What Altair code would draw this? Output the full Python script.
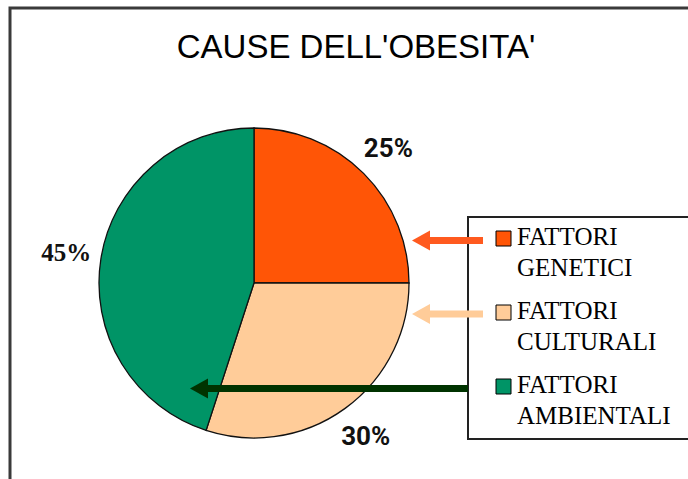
import altair as alt
import pandas as pd

# ---------------- data ----------------
title_text = "CAUSE DELL'OBESITA'"
categories = ["FATTORI GENETICI", "FATTORI CULTURALI", "FATTORI AMBIENTALI"]
values = [25, 30, 45]
pct_labels = ["25%", "30%", "45%"]
slice_colors = ["#FF5506", "#FFCC99", "#009466"]
arrow_colors = ["#FF5A1F", "#FFCC99", "#003300"]

# ---------------- layout ----------------
W, H = 688, 479
CX, CY, R = 254, 283, 155
LABEL_R = 190

pie_df = pd.DataFrame({"cat": categories, "value": values,
                       "label": pct_labels, "ord": list(range(len(categories)))})

xs = alt.Scale(domain=[0, W], nice=False, zero=False)
ys = alt.Scale(domain=[H, 0], nice=False, zero=False)
color_scale = alt.Scale(domain=categories, range=slice_colors)

# outer frame
frame = alt.Chart(pd.DataFrame({"x": [10], "x2": [720], "y": [8], "y2": [520]})).mark_rect(
    fillOpacity=0, stroke="#3a3a3a", strokeWidth=3
).encode(x=alt.X("x:Q", scale=xs, axis=None), x2="x2:Q",
         y=alt.Y("y:Q", scale=ys, axis=None), y2="y2:Q")

# title
title = alt.Chart(pd.DataFrame({"t": [title_text]})).mark_text(
    font="Liberation Sans", fontSize=33, color="black", align="center", baseline="alphabetic"
).encode(text="t:N", x=alt.value(356), y=alt.value(58))

# pie
pie_base = alt.Chart(pie_df).encode(
    theta=alt.Theta("value:Q", stack=True),
    order=alt.Order("ord:Q"),
    x=alt.value(CX), y=alt.value(CY),
)
arcs = pie_base.mark_arc(radius=R, stroke="#111", strokeWidth=1.3).encode(
    color=alt.Color("cat:N", scale=color_scale, legend=None)
)
labels_sans = pie_base.mark_text(
    radius=LABEL_R, font="Roboto", fontSize=26, fontWeight="bold",
    color="#111", align="center", baseline="middle"
).encode(text="label:N", opacity=alt.condition("datum.ord == 2", alt.value(0), alt.value(1)))
labels_serif = pie_base.mark_text(
    radius=LABEL_R, font="Liberation Serif", fontSize=25, fontWeight="bold",
    color="#111", align="center", baseline="middle"
).encode(text="label:N", opacity=alt.condition("datum.ord == 2", alt.value(1), alt.value(0)))

# legend box
legend_box = alt.Chart(pd.DataFrame({"x": [468], "x2": [720], "y": [217], "y2": [439]})).mark_rect(
    fill="white", stroke="#222", strokeWidth=2
).encode(x=alt.X("x:Q", scale=xs, axis=None), x2="x2:Q",
         y=alt.Y("y:Q", scale=ys, axis=None), y2="y2:Q")

leg_df = pd.DataFrame({"cat": categories, "ord": list(range(len(categories)))})
leg_base = alt.Chart(leg_df).transform_calculate(
    sy="238.5 + datum.ord * 74", ty="245 + datum.ord * 74"
)
leg_sq = leg_base.mark_square(size=225, stroke="black", strokeWidth=1, opacity=1).encode(
    x=alt.value(503.5), y=alt.Y("sy:Q", scale=ys, axis=None),
    color=alt.Color("cat:N", scale=color_scale, legend=None)
)
leg_txt = leg_base.mark_text(
    font="Liberation Serif", fontSize=25, color="black", align="left",
    baseline="alphabetic", lineBreak=" ", lineHeight=31
).encode(x=alt.value(517), y=alt.Y("ty:Q", scale=ys, axis=None), text="cat:N")

# arrows
arr_df = pd.DataFrame({
    "acolor": arrow_colors,
    "y": [240.5, 314, 388.5],
    "tip": [412, 412, 190],
    "tail": [483, 483, 468],
})
arr_base = alt.Chart(arr_df).transform_calculate(base="datum.tip + 14", head="datum.tip + 9")
arr_line = arr_base.mark_rule(strokeWidth=7).encode(
    x=alt.X("base:Q", scale=xs, axis=None), x2="tail:Q",
    y=alt.Y("y:Q", scale=ys, axis=None),
    color=alt.Color("acolor:N", scale=None)
)
arr_head = arr_base.mark_point(
    shape="M -1 0 L 1 -1.1 L 1 1.1 Z", filled=True, size=324, opacity=1
).encode(
    x=alt.X("head:Q", scale=xs, axis=None), y=alt.Y("y:Q", scale=ys, axis=None),
    color=alt.Color("acolor:N", scale=None)
)

chart = alt.layer(
    frame, title, arcs, labels_sans, labels_serif, legend_box, leg_sq, leg_txt, arr_line, arr_head
).properties(
    width=W, height=H, padding=0, autosize=alt.AutoSizeParams(type="none"), background="white"
).configure_view(stroke=None)

chart.save("out.html", embed_options={"renderer": "svg", "actions": False})
